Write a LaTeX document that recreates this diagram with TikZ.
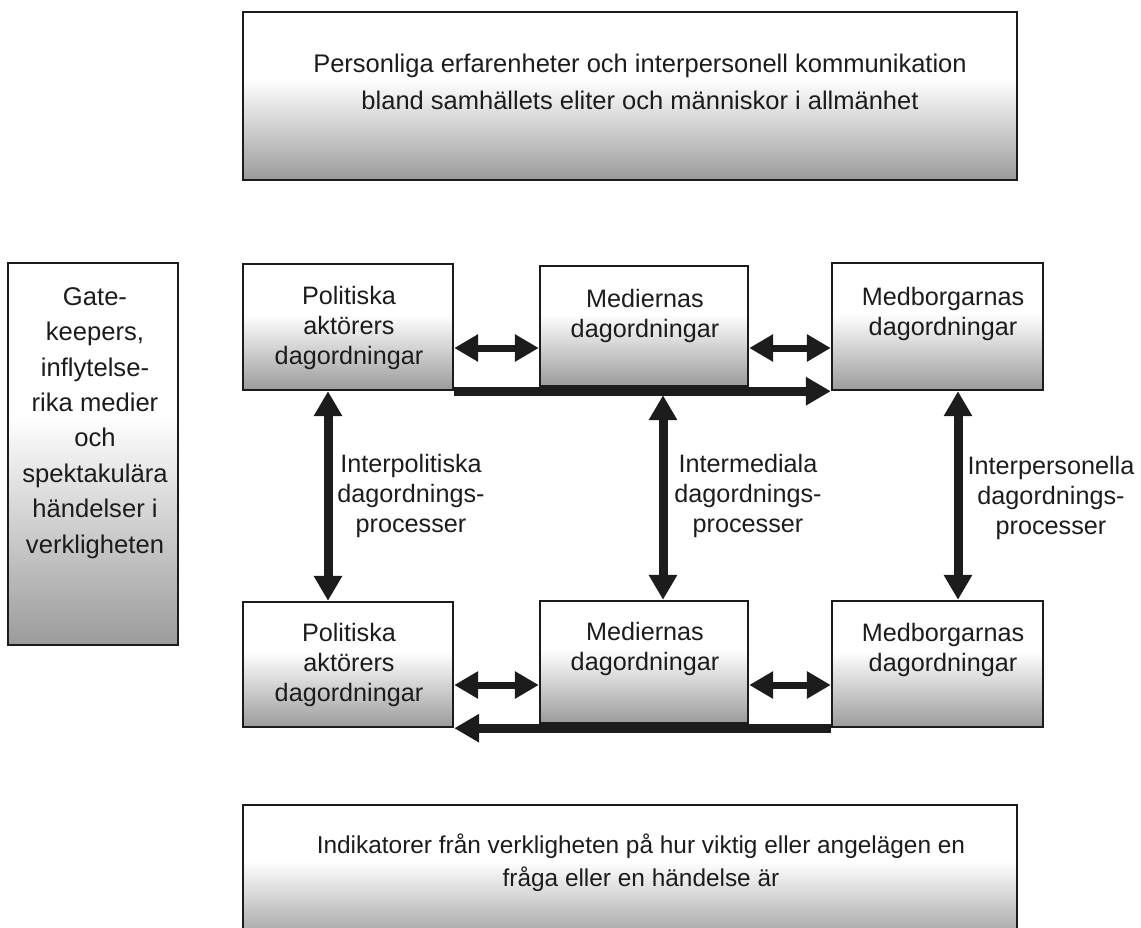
\documentclass[tikz,border=0pt]{standalone}
\usepackage{fontspec}
\setmainfont{Liberation Sans}
\usetikzlibrary{arrows.meta}
\definecolor{ink}{RGB}{28,28,28}
\definecolor{boxgray}{RGB}{155,155,155}
\pgfdeclareverticalshading{boxshade}{100bp}{color(0bp)=(boxgray); color(25bp)=(boxgray); color(55bp)=(white); color(100bp)=(white)}
\tikzset{
  box/.style={draw=ink, line width=1.2pt, shading=boxshade, inner sep=0pt},
  txt/.style={align=center, text=ink, inner sep=0pt},
  rowtxt/.style={txt, font=\fontsize{12.6pt}{14.8pt}\selectfont},
  lbl/.style={txt, font=\fontsize{12.6pt}{15pt}\selectfont},
  dbl/.style={draw=ink, line width=3.5pt, {Triangle[length=12pt,width=13pt]}-{Triangle[length=12pt,width=13pt]}},
  big/.style={draw=ink, line width=4.5pt, -{Triangle[length=12.5pt,width=13.5pt]}},
  bigdbl/.style={draw=ink, line width=4.5pt, {Triangle[length=12.5pt,width=13.5pt]}-{Triangle[length=12.5pt,width=13.5pt]}}
}
\begin{document}
\begin{tikzpicture}[x=0.5pt,y=-0.5pt]
\useasboundingbox (0,0) rectangle (1141,927);
\clip (0,0) rectangle (1141,927);

% top and bottom wide boxes
\node[box, minimum width=387pt, minimum height=84pt] (top) at (630,96) {};
\node[txt, font=\fontsize{12.75pt}{18.5pt}\selectfont] (topt) at (640,82)
  {Personliga erfarenheter och interpersonell kommunikation\\bland samhällets eliter och människor i allmänhet};
\node[box, minimum width=387pt, minimum height=70pt] (bot) at (630,875) {};
\node[txt, font=\fontsize{12.2pt}{16.5pt}\selectfont] (bott) at (641,863)
  {Indikatorer från verkligheten på hur viktig eller angelägen en\\fråga eller en händelse är};

% left box
\node[box, minimum width=85pt, minimum height=191pt] (gate) at (93,454) {};
\node[txt, font=\fontsize{12.8pt}{17.7pt}\selectfont] (gatet) at (95,423)
  {Gate-\\keepers,\\inflytelse-\\rika medier\\och\\spektakulära\\händelser i\\verkligheten};

% row 1
\node[box, minimum width=105pt, minimum height=63pt] (P1) at (348,327) {};
\node[rowtxt] (P1t) at (349,328) {Politiska\\aktörers\\dagordningar};
\node[box, minimum width=104pt, minimum height=60pt] (M1) at (644,326) {};
\node[rowtxt] (M1t) at (645,316) {Mediernas\\dagordningar};
\node[box, minimum width=105.5pt, minimum height=63.5pt] (B1) at (937.5,326.5) {};
\node[rowtxt] (B1t) at (943,314) {Medborgarnas\\dagordningar};

% row 2
\node[box, minimum width=105pt, minimum height=62.5pt] (P2) at (348,664.5) {};
\node[rowtxt] (P2t) at (349,665) {Politiska\\aktörers\\dagordningar};
\node[box, minimum width=104pt, minimum height=61pt] (M2) at (644,662) {};
\node[rowtxt] (M2t) at (645,649) {Mediernas\\dagordningar};
\node[box, minimum width=105.5pt, minimum height=63pt] (B2) at (937.5,664) {};
\node[rowtxt] (B2t) at (943,650) {Medborgarnas\\dagordningar};

% process labels
\node[lbl] (lp) at (411,496) {Interpolitiska\\dagordnings-\\processer};
\node[lbl] (lm) at (748,496) {Intermediala\\dagordnings-\\processer};
\node[lbl] (lc) at (1051,498) {Interpersonella\\dagordnings-\\processer};

% helper coordinates
\coordinate (r1) at (0,348);
\coordinate (r2) at (0,685);
\coordinate (vL) at (328,0);
\coordinate (vM) at (663,0);
\coordinate (vR) at (958,0);

% connectors
\draw[dbl] (P1.east |- r1) -- (M1.west |- r1);
\draw[dbl] (M1.east |- r1) -- (B1.west |- r1);
\draw[big] (P1.south east) -- (B1.south west);
\draw[bigdbl] (P1.south -| vL) -- (P2.north -| vL);
\draw[bigdbl, shorten <=4pt] (M1.south -| vM) -- (M2.north -| vM);
\draw[bigdbl] (B1.south -| vR) -- (B2.north -| vR);
\draw[dbl] (P2.east |- r2) -- (M2.west |- r2);
\draw[dbl] (M2.east |- r2) -- (B2.west |- r2);
\draw[big] (B2.south west) -- (P2.south east);
\end{tikzpicture}
\end{document}
